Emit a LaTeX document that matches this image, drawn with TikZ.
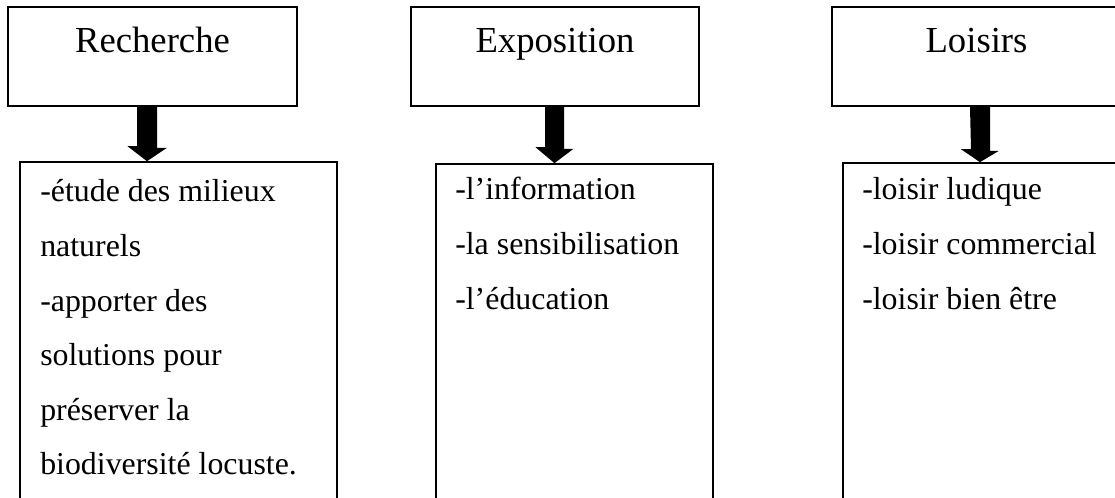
\documentclass[tikz,border=0pt]{standalone}
\usepackage{fontspec}
\setmainfont{Liberation Serif}
\usetikzlibrary{fit,calc}
\tikzset{
  box/.style={draw=black, line width=1.2pt, inner sep=0pt},
  head/.style={anchor=base, inner sep=0pt, font=\fontsize{27.5}{30}\selectfont},
  item/.style={anchor=base west, inner sep=0pt, font=\fontsize{23.9}{28}\selectfont},
  blockarrow/.style={fill=black, draw=none}
}
\begin{document}
\begin{tikzpicture}[x=0.75pt, y=-0.75pt]
\useasboundingbox (0,0) rectangle (1115,498);
\clip (0,0) rectangle (1115,498);
% top boxes
\coordinate (t1a) at (8,7); \coordinate (t1b) at (297,106);
\coordinate (t2a) at (411,7); \coordinate (t2b) at (699,106);
\coordinate (t3a) at (832,7); \coordinate (t3b) at (1140,106);
\node[box, fit=(t1a)(t1b)] (t1) {};
\node[box, fit=(t2a)(t2b)] (t2) {};
\node[box, fit=(t3a)(t3b)] (t3) {};
\node[head] (h1) at (152.5,53) {Recherche};
\node[head] (h2) at (555,53) {Exposition};
\node[head] (h3) at (976.5,53) {Loisirs};
% bottom boxes
\coordinate (b1a) at (20,162); \coordinate (b1b) at (337,520);
\coordinate (b2a) at (436,164); \coordinate (b2b) at (713,520);
\coordinate (b3a) at (843,163); \coordinate (b3b) at (1140,520);
\node[box, fit=(b1a)(b1b)] (b1) {};
\node[box, fit=(b2a)(b2b)] (b2) {};
\node[box, fit=(b3a)(b3b)] (b3) {};
% block arrows
\coordinate (a1) at (147,0);
\fill[blockarrow] (a1 |- t1.south) ++(-10,0) -- ++(20,0) -- ++(0,41) -- ++(10,0) -- (a1 |- b1.north) -- ++(-19.5,-15) -- ++(9.5,0) -- cycle;
\coordinate (a2) at (554.5,0);
\fill[blockarrow] (a2 |- t2.south) ++(-9.5,0) -- ++(19,0) -- ++(0,42) -- ++(9.5,0) -- (a2 |- b2.north) -- ++(-19,-16) -- ++(9.5,0) -- cycle;
\coordinate (a3) at (980,0);
\fill[blockarrow] (a3 |- t3.south) ++(-10,0) -- ++(20,0) -- ++(0,44) -- ++(9,0) -- (a3 |- b3.north) -- ++(-19,-13) -- ++(10,0) -- cycle;
% texts
\node[item] (r1) at (40,202) {-étude des milieux};
\node[item] (r2) at (40,256.6) {naturels};
\node[item] (r3) at (40,311.2) {-apporter des};
\node[item] (r4) at (40,365.8) {solutions pour};
\node[item] (r5) at (40,420.4) {préserver la};
\node[item] (r6) at (40,475) {biodiversité locuste.};
\node[item] (e1) at (455,200) {-l’information};
\node[item] (e2) at (455,254.6) {-la sensibilisation};
\node[item] (e3) at (455,309.2) {-l’éducation};
\node[item] (l1) at (862,200) {-loisir ludique};
\node[item] (l2) at (862,254.6) {-loisir commercial};
\node[item] (l3) at (862,309.2) {-loisir bien être};
\end{tikzpicture}
\end{document}
